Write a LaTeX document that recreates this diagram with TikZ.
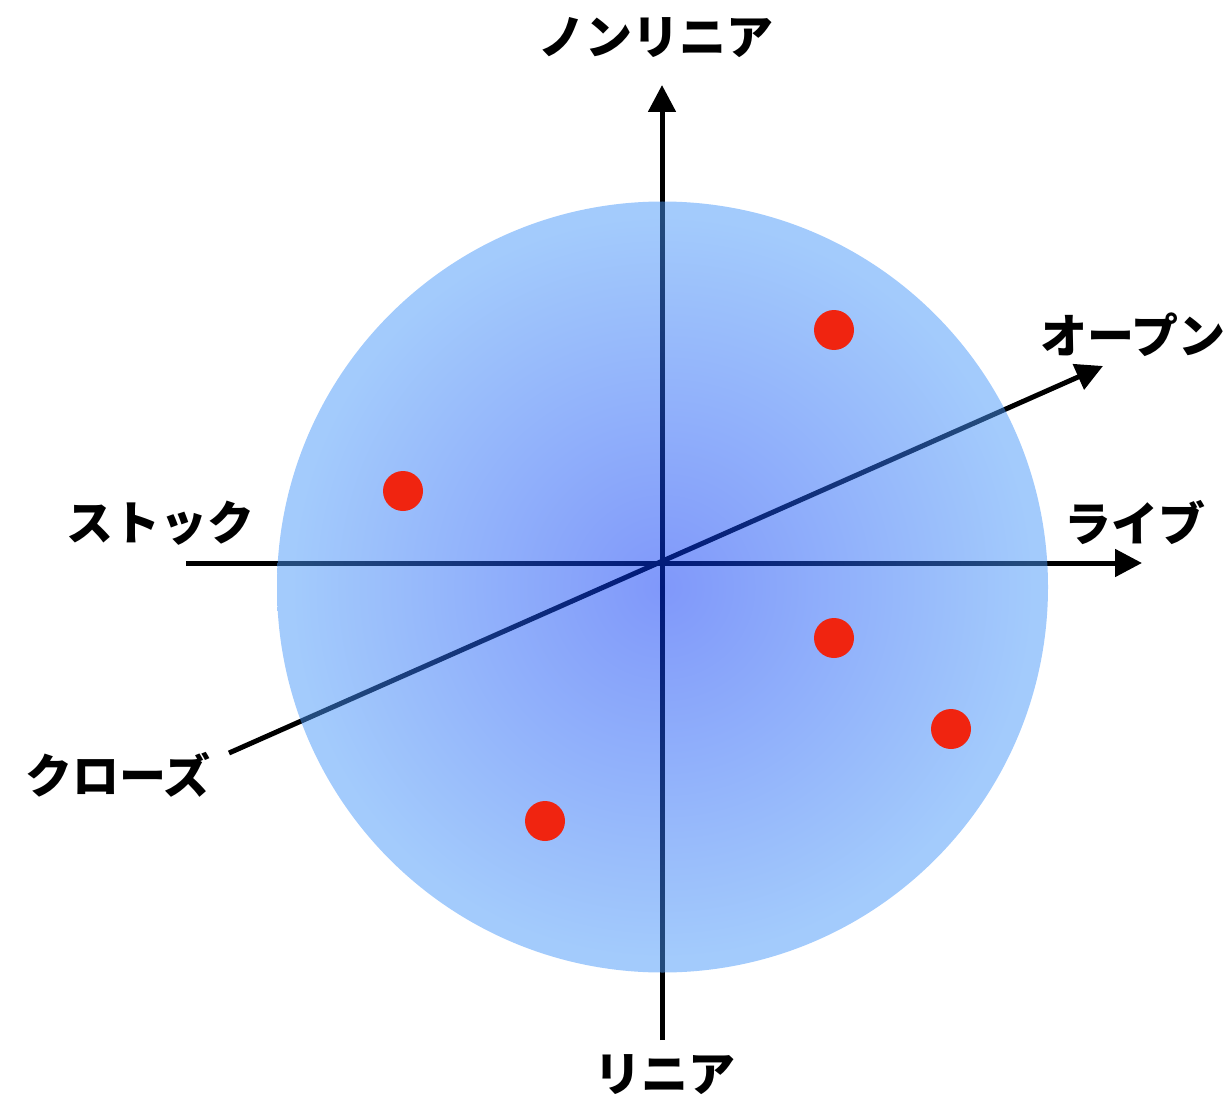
\documentclass[tikz,border=0pt]{standalone}
\usepackage{fontspec}
\newfontfamily\jp{Noto Sans CJK JP}
\usetikzlibrary{arrows.meta}
\definecolor{dotred}{RGB}{240,36,16}
\definecolor{cin}{RGB}{1,49,245}
\definecolor{cout}{RGB}{71,151,249}
\pgfdeclareradialshading{ballshade}{\pgfpoint{0bp}{0bp}}{color(0bp)=(cin); color(24bp)=(cout); color(50bp)=(cout)}
\begin{document}
\begin{tikzpicture}[x=1pt,y=-1pt,
  axis/.style={line width=5pt,-{Triangle[length=27pt,width=27pt]}},
  dot/.style={circle,fill=dotred,minimum size=40pt,inner sep=0pt},
  lbl/.style={font=\jp\bfseries\fontsize{47}{52}\selectfont,inner sep=0pt}]
\useasboundingbox (0,0) rectangle (1231,1099);
\coordinate (top) at (662,85);
\coordinate (bot) at (662,1040);
\coordinate (lft) at (186,563);
\coordinate (rgt) at (1142,563);
\coordinate (dl) at (229,753);
\coordinate (ur) at (1103,366);
\draw[axis] (bot) -- (top);
\draw[axis] (lft) -- (rgt);
\draw[axis] (dl) -- (ur);
\shade[shading=ballshade,fill opacity=0.5] (662.5,587) circle (385.5pt);
\node[dot] (d1) at (834,330) {};
\node[dot] (d2) at (403,491) {};
\node[dot] (d3) at (834,638) {};
\node[dot] (d4) at (951,729) {};
\node[dot] (d5) at (545,821) {};
\node[lbl] (nonlin) at (656,38) {ノンリニア};
\node[lbl] (lin) at (665,1075) {リニア};
\node[lbl] (stock) at (160,523) {ストック};
\node[lbl] (live) at (1135,523) {ライブ};
\node[lbl] (open) at (1133,335) {オープン};
\node[lbl] (close) at (118,775) {クローズ};
\end{tikzpicture}
\end{document}
